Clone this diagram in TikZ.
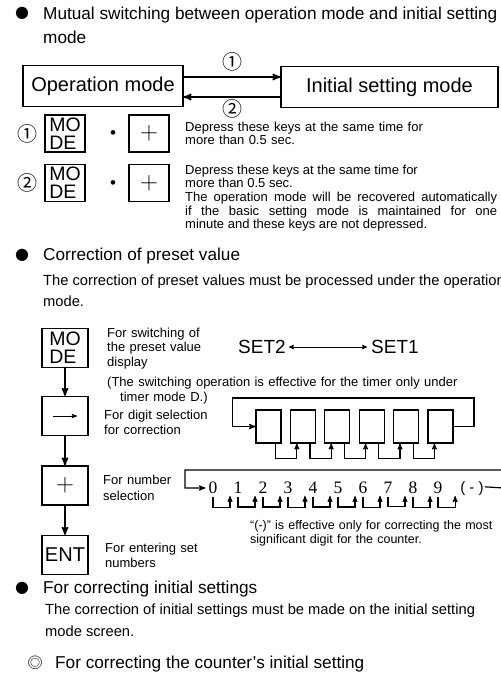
\documentclass[tikz,border=0pt]{standalone}
\usepackage{fontspec}
\setmainfont{Liberation Sans}
\newfontfamily\serifdig{Liberation Serif}
\newfontfamily\cjkfont{Noto Sans CJK JP}
\newfontfamily\symfont{DejaVu Sans}
\usetikzlibrary{arrows}

\begin{document}
\begin{tikzpicture}[x=1pt,y=-1pt,>=stealth',every node/.style={inner sep=0pt},
  big/.style={anchor=base west,font=\fontsize{17.2}{20}\selectfont},
  para/.style={anchor=base west,font=\fontsize{14.7}{17}\selectfont},
  small/.style={anchor=base west,align=left,text width=400pt,font=\fontsize{13}{13.7}\selectfont},
  bul/.style={font=\symfont\fontsize{16}{16}\selectfont},
  num/.style={font=\cjkfont\fontsize{20}{20}\selectfont},
  modebox/.style={draw,line width=1.3pt,minimum height=41pt,font=\fontsize{20}{22}\selectfont},
  keybox/.style={draw,line width=1.3pt,minimum width=40pt,minimum height=37pt,align=left,font=\fontsize{19.5}{18}\selectfont},
  keybig/.style={keybox,minimum width=46pt,minimum height=39pt},
  plus/.style={font=\fontsize{27}{27}\selectfont},
  cell/.style={draw,line width=1.2pt,minimum width=25pt,minimum height=33pt,node distance=34.4pt},
  dig/.style={font=\serifdig\fontsize{17.5}{17.5}\selectfont,node distance=25pt},
  flow/.style={->,line width=1.7pt},
  link/.style={->,line width=1.2pt}]
\useasboundingbox (0,0) rectangle (501,697);

% mutual switching
\node[bul] (b1) at (22,13) {●};
\node[big] (h1) at (43,19) {Mutual switching between operation mode and initial setting};
\node[big] (h1b) at (43,43) {mode};

\node[modebox,minimum width=160pt] (op) at (103,86) {Operation mode};
\node[modebox,minimum width=217pt] (ini) at (389.5,87) {Initial setting mode};
\draw[flow] (op.east |- 0,77) -- (ini.west |- 0,77) node[num,midway,yshift=15pt] {①};
\draw[flow] (ini.west |- 0,97) -- (op.east |- 0,97) node[num,midway,yshift=-12pt] {②};

\node[num] (c1) at (27,134) {①};
\node[keybox] (m1) at (65,133.5) {MO\\DE};
\node[font=\fontsize{17}{17}\selectfont] (p1) at (113,135) {•};
\node[keybox,plus] (k1) at (149,133.5) {$+$};
\node[small] (t1) at (185,131) {Depress these keys at the same time for\\more than 0.5 sec.};

\node[num] (c2) at (27,183) {②};
\node[keybox] (m2) at (65,183) {MO\\DE};
\node[font=\fontsize{17}{17}\selectfont] (p2) at (113,185) {•};
\node[keybox,plus] (k2) at (149,183) {$+$};
\node[small,text width=312pt,align=justify] (t2) at (185,174) {Depress these keys at the same time for\\more than 0.5 sec.\\The operation mode will be recovered automatically\linebreak if the basic setting mode is maintained for one\linebreak minute and these keys are not depressed.};

% preset value
\node[bul] (b2) at (22,255) {●};
\node[big] (h2) at (43,260) {Correction of preset value};
\node[para] (p2a) at (43,285) {The correction of preset values must be processed under the operation};
\node[para] (p2b) at (43,306) {mode.};

\node[keybig] (kmode) at (65,348) {MO\\DE};
\node[keybig] (karrow) at (65,416) {};
\draw[->,line width=0.9pt] ([xshift=-12pt]karrow.center) -- ([xshift=12pt]karrow.center);
\node[keybig,plus] (kplus) at (65,485.5) {$+$};
\node[keybig,font=\fontsize{20}{20}\selectfont] (kent) at (65,555) {ENT};
\draw[flow] (kmode) -- (karrow);
\draw[flow] (karrow) -- (kplus);
\draw[flow] (kplus) -- (kent);

\node[small,font=\fontsize{13}{14.5}\selectfont] (s1) at (107,337) {For switching of\\the preset value\\display};
\node[font=\fontsize{19}{19}\selectfont] (set2) at (262,347) {SET2};
\node[font=\fontsize{19}{19}\selectfont] (set1) at (395,347) {SET1};
\draw[<->,line width=0.8pt,shorten <=3pt,shorten >=4pt] (set2) -- (set1);
\node[small,font=\fontsize{13}{15}\selectfont] (s2) at (107,386) {(The switching operation is effective for the timer only under\\\hspace*{13pt}timer mode D.)};

\node[small,font=\fontsize{13}{15}\selectfont] (s3) at (104,419) {For digit selection\\for correction};
\node[cell] (d1) at (268.5,426.5) {};
\node[cell,right of=d1] (d2) {};
\node[cell,right of=d2] (d3) {};
\node[cell,right of=d3] (d4) {};
\node[cell,right of=d4] (d5) {};
\node[cell,right of=d5] (d6) {};
\draw[link] (d6.east) -| (474,398) -| ([xshift=-23pt]d1.west) -- (d1.west);
\foreach \a/\b in {d1/d2,d2/d3,d3/d4,d4/d5,d5/d6}
  \draw[link,line width=1.1pt] ([xshift=-6pt]\a.south east) -- ++(0,15) -| ([xshift=7pt]\b.south west);

\node[small,font=\fontsize{13}{16}\selectfont] (s4) at (103,484) {For number\\selection};
\node[dig] (n0) at (213,488) {0};
\node[dig,right of=n0] (n1) {1};
\node[dig,right of=n1] (n2) {2};
\node[dig,right of=n2] (n3) {3};
\node[dig,right of=n3] (n4) {4};
\node[dig,right of=n4] (n5) {5};
\node[dig,right of=n5] (n6) {6};
\node[dig,right of=n6] (n7) {7};
\node[dig,right of=n7] (n8) {8};
\node[dig,right of=n8] (n9) {9};
\node[font=\fontsize{15}{15}\selectfont] (nm) at (472,489) {( - )};
\draw[link] (nm.north east) ++(1,5) -- (504,488) |- (185,470) |- ([xshift=-3pt]n0.west);
\foreach \a/\b in {n0/n1,n1/n2,n2/n3,n3/n4,n4/n5,n5/n6,n6/n7,n7/n8,n8/n9}
  \draw[link,line width=1.1pt] ([yshift=-3pt]\a.south) -- ++(0,10) -| ([xshift=-8pt,yshift=-2pt]\b.south);
\draw[link,line width=1.1pt] ([yshift=-3pt]n9.south) -- ++(0,10) -| ([xshift=-5pt,yshift=-2pt]n9.south -| nm.west);
\node[small,font=\fontsize{12.5}{14}\selectfont] (s5) at (250,529) {“(-)” is effective only for correcting the most\\significant digit for the counter.};

\node[small,font=\fontsize{13}{15}\selectfont] (s6) at (105,552) {For entering set\\numbers};

% initial settings
\node[bul] (b3) at (22,588) {●};
\node[big] (h3) at (43,593) {For correcting initial settings};
\node[para] (p3a) at (45,614) {The correction of initial settings must be made on the initial setting};
\node[para] (p3b) at (45,636) {mode screen.};
\node[num,font=\cjkfont\fontsize{15}{15}\selectfont] (c3) at (35,663) {◎};
\node[big] (h4) at (55,668) {For correcting the counter’s initial setting};
\end{tikzpicture}
\end{document}
